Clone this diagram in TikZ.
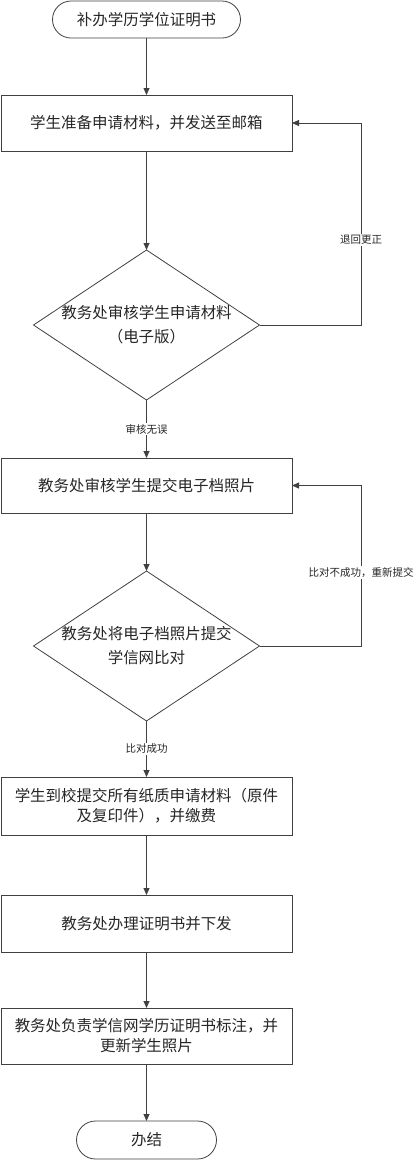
\documentclass[tikz,border=0pt]{standalone}
\usepackage{fontspec}
\newfontfamily\cjk{Noto Sans CJK SC}
\usetikzlibrary{shapes.geometric, shapes.misc, arrows.meta, positioning}
\definecolor{linegray}{RGB}{64,64,64}
\tikzset{
  terminal/.style={rounded rectangle, draw=linegray, line width=0.8pt,
                   minimum height=37pt, inner sep=0pt, outer sep=0pt, text=black!85,
                   font=\cjk\fontsize{15.5}{20}\selectfont},
  procbox/.style={rectangle, draw=linegray, line width=0.8pt, align=center,
                  minimum width=291pt, minimum height=56pt, inner sep=0pt,
                  outer sep=0pt, text=black!85, font=\cjk\fontsize{15.5}{20}\selectfont},
  decision/.style={diamond, draw=linegray, line width=0.8pt, outer sep=0pt,
                   minimum width=226pt, minimum height=150pt, inner sep=0pt},
  decisiontext/.style={align=center, inner sep=0pt, text=black!85,
                       font=\cjk\fontsize{15.5}{24}\selectfont},
  arrow/.style={-{Triangle[length=7pt,width=6pt]}, draw=linegray, line width=0.8pt},
  flowlabel/.style={fill=white, inner sep=1.5pt, text=black!85,
                    font=\cjk\fontsize{10.5}{12}\selectfont},
}

\begin{document}
\begin{tikzpicture}[x=1pt, y=-1pt]
  \useasboundingbox (0,0) rectangle (415,1163);

  % Main column
  \node[terminal, minimum width=188pt] (start) at (146.5,19.5) {补办学历学位证明书};
  \node[procbox, below=57pt of start] (prep) {学生准备申请材料，并发送至邮箱};
  \node[decision, below=99pt of prep] (check)
    [label={[decisiontext]center:{教务处审核学生申请材料\\（电子版）}}] {};
  \node[procbox, minimum height=55pt, below=58pt of check] (photo) {教务处审核学生提交电子档照片};
  \node[decision, below=58pt of photo] (compare)
    [label={[decisiontext]center:{教务处将电子档照片提交\\学信网比对}}] {};
  \node[procbox, minimum height=58pt, below=56pt of compare] (paper)
    {学生到校提交所有纸质申请材料（原件\\及复印件），并缴费};
  \node[procbox, minimum height=57pt, below=60pt of paper] (issue) {教务处办理证明书并下发};
  \node[procbox, below=56pt of issue] (update)
    {教务处负责学信网学历证明书标注，并\\更新学生照片};
  \node[terminal, minimum width=140pt, minimum height=38pt, below=57pt of update] (done) {办结};

  % Forward arrows
  \draw[arrow] (start) -- (prep);
  \draw[arrow] (prep) -- (check);
  \draw[arrow] (check) -- node[flowlabel] {审核无误} (photo);
  \draw[arrow] (photo) -- (compare);
  \draw[arrow] (compare) -- node[flowlabel] {比对成功} (paper);
  \draw[arrow] (paper) -- (issue);
  \draw[arrow] (issue) -- (update);
  \draw[arrow] (update) -- (done);

  % Return loops
  \draw[arrow] (check.east) -| node[flowlabel, pos=0.71] {退回更正}
    ([xshift=69pt]prep.east) -- (prep.east);
  \draw[arrow] (compare.east) -| node[flowlabel, pos=0.73] {比对不成功，重新提交}
    ([xshift=69pt]photo.east) -- (photo.east);
\end{tikzpicture}
\end{document}
